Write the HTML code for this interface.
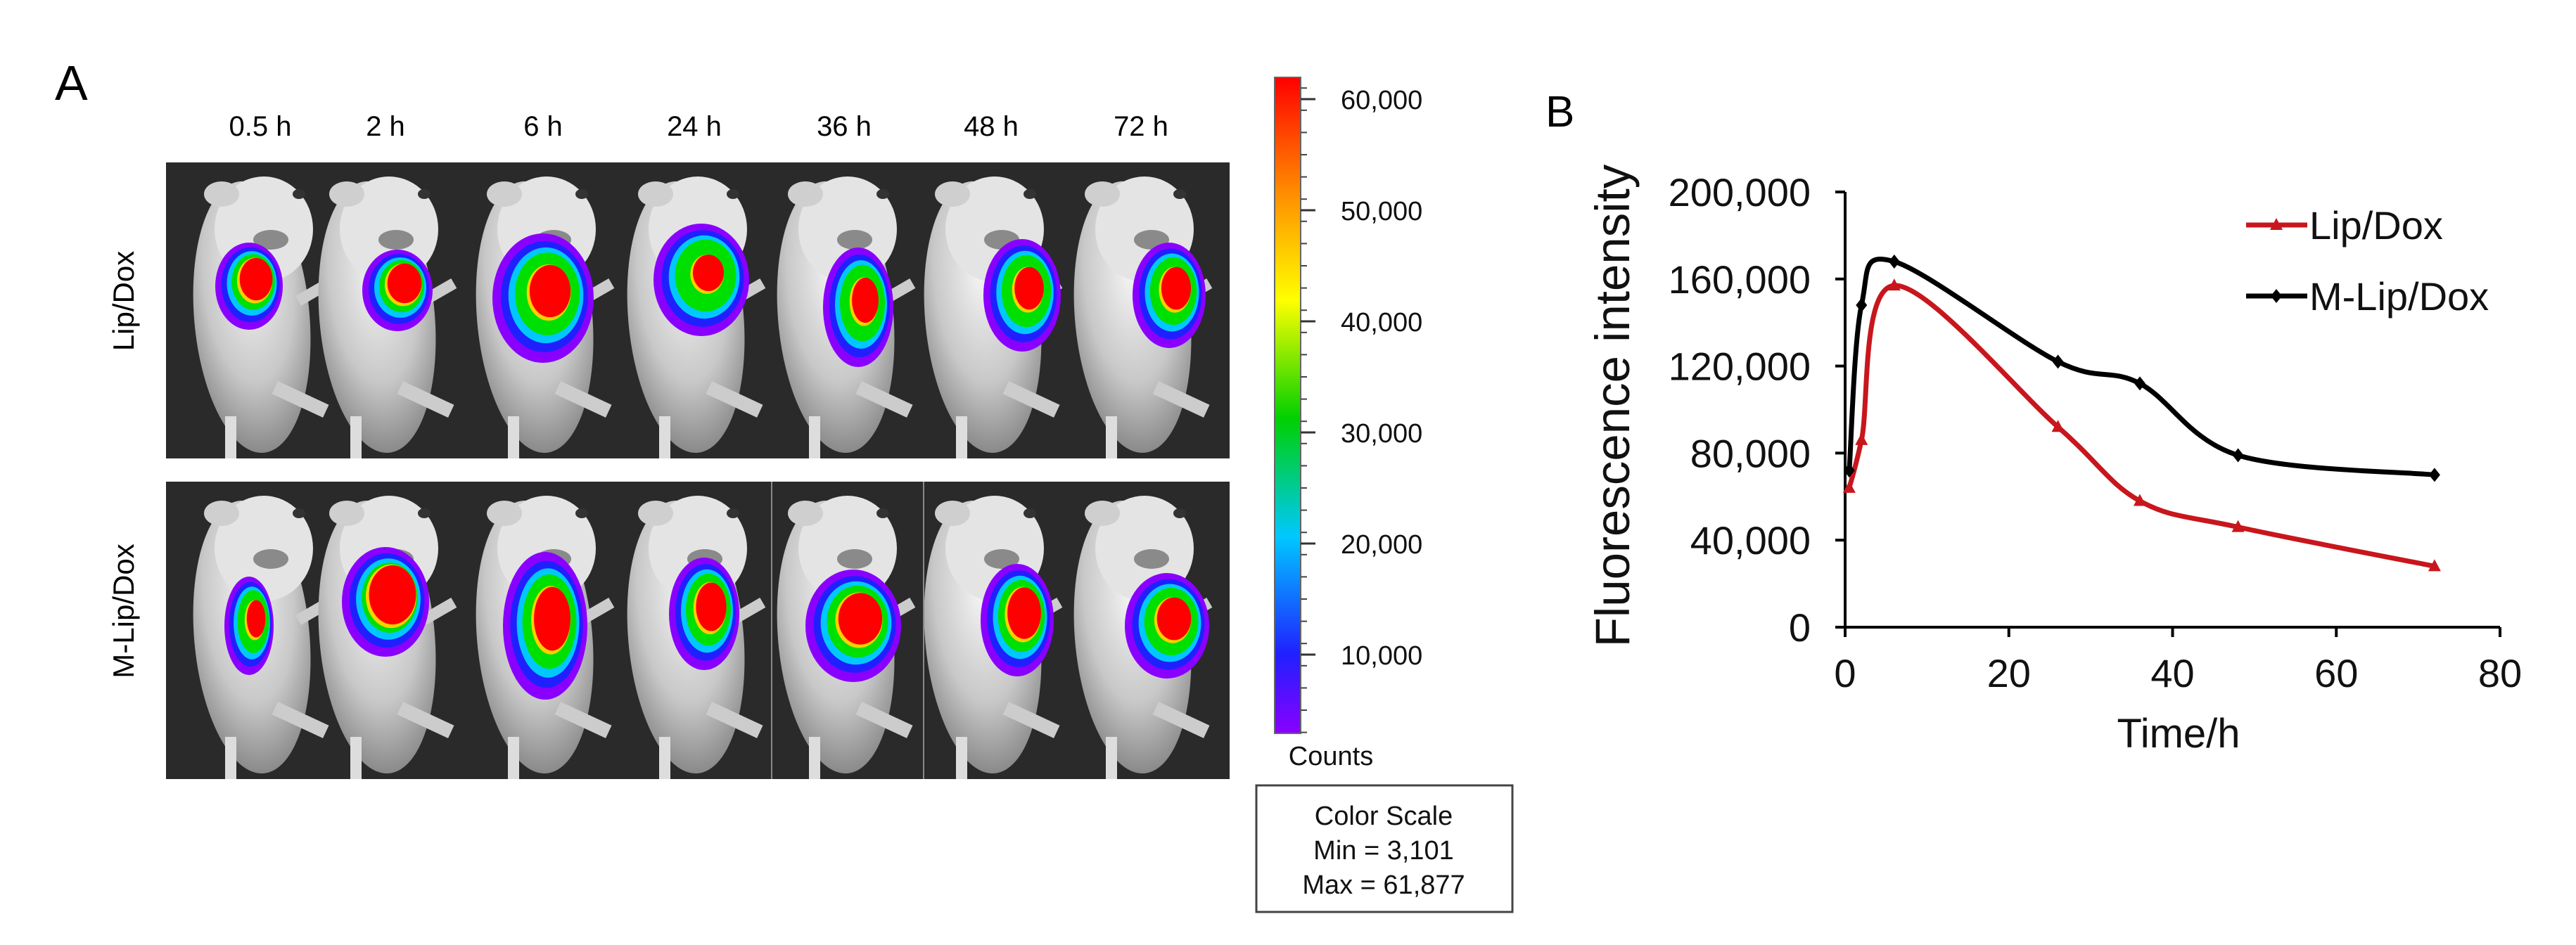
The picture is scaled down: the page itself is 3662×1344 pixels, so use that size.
<!DOCTYPE html>
<html><head><meta charset="utf-8"><style>
html,body{margin:0;padding:0;background:#fff;}
svg{display:block;font-family:"Liberation Sans",Arial,sans-serif;}
</style></head><body>
<svg id="fig" width="3662" height="1344" viewBox="0 0 3662 1344" xmlns="http://www.w3.org/2000/svg">
<defs>
<linearGradient id="cbar" x1="0" y1="1" x2="0" y2="0">
<stop offset="0" stop-color="#8a00ff"/><stop offset="0.12" stop-color="#2020ff"/><stop offset="0.3" stop-color="#00c8ff"/><stop offset="0.48" stop-color="#00d000"/><stop offset="0.66" stop-color="#ffff00"/><stop offset="0.82" stop-color="#ff9000"/><stop offset="1" stop-color="#ff0000"/>
</linearGradient>
<radialGradient id="fur" cx="0.5" cy="0.35" r="0.65"><stop offset="0" stop-color="#f2f2f2"/><stop offset="0.6" stop-color="#c8c8c8"/><stop offset="1" stop-color="#8a8a8a"/></radialGradient>
</defs>
<text x="78" y="142" font-size="70" fill="#000">A</text>
<g id="panelA"></g>
<g id="cbarg"></g>
<text x="2197" y="180" font-size="62" fill="#000">B</text>
<g id="chart"></g>
</svg>
<script>
const NS="http://www.w3.org/2000/svg";
function mk(tag,attrs,parent,txt){const e=document.createElementNS(NS,tag);for(const k in attrs)e.setAttribute(k,attrs[k]);if(txt!==undefined)e.textContent=txt;parent.appendChild(e);return e;}

// ---- Chart B data ----
const times=[0.5,2,6,26,36,48,72];
const lipDox=[64000,86000,157000,92000,58000,46000,28000];
const mLipDox=[72000,148000,168000,122000,112000,79000,70000];
const yTicks=[0,40000,80000,120000,160000,200000];
const yTickLabels=["0","40,000","80,000","120,000","160,000","200,000"];
const xTicks=[0,20,40,60,80];
const xTickLabels=["0","20","40","60","80"];

const X0=2623,X1=3554,Y0=892,Y1=273;
const xs=t=>X0+(t-0)/(80-0)*(X1-X0);
const ys=v=>Y0-(v-0)/(200000-0)*(Y0-Y1);
const chart=document.getElementById('chart');

const yAxis=mk('line',{x1:X0,y1:Y0,x2:X0,y2:Y1,stroke:'#000','stroke-width':4},chart);


const xAxis=mk('line',{x1:X0-2,y1:Y0,x2:X1,y2:Y0,stroke:'#000','stroke-width':4},chart);


yTicks.forEach((v,i)=>{
  const tk=mk('line',{x1:X0-14,y1:ys(v),x2:X0,y2:ys(v),stroke:'#000','stroke-width':4},chart);
  
  
  const tl=mk('text',{x:2574,y:ys(v)+20,'font-size':56,'text-anchor':'end',fill:'#111'},chart,yTickLabels[i]);
  
  
});
xTicks.forEach((v,i)=>{
  const tk=mk('line',{x1:xs(v),y1:Y0,x2:xs(v),y2:Y0+14,stroke:'#000','stroke-width':4},chart);
  
  
  const tl=mk('text',{x:xs(v),y:977,'font-size':56,'text-anchor':'middle',fill:'#111'},chart,xTickLabels[i]);
  
  
});
const xt=mk('text',{x:3097,y:1063,'font-size':58,'text-anchor':'middle',fill:'#111'},chart,'Time/h');


const yt=mk('text',{x:0,y:0,'font-size':69,'text-anchor':'middle',fill:'#111',transform:'translate(2316,577) rotate(-90)'},chart,'Fluorescence intensity');



function smooth(pts){
  let d='M'+pts[0][0]+','+pts[0][1];
  for(let i=0;i<pts.length-1;i++){
    const p0=pts[Math.max(0,i-1)],p1=pts[i],p2=pts[i+1],p3=pts[Math.min(pts.length-1,i+2)];
    const k=1/6;
    const c1=[p1[0]+(p2[0]-p0[0])*k,p1[1]+(p2[1]-p0[1])*k];
    const c2=[p2[0]-(p3[0]-p1[0])*k,p2[1]-(p3[1]-p1[1])*k];
    d+=' C'+c1[0]+','+c1[1]+' '+c2[0]+','+c2[1]+' '+p2[0]+','+p2[1];
  }
  return d;
}
function series(vals,color,name,marker){
  const pts=times.map((t,i)=>[xs(t),ys(vals[i])]);
  const p=mk('path',{d:smooth(pts),fill:'none',stroke:color,'stroke-width':7,'stroke-linejoin':'round'},chart);
  
  
  pts.forEach(q=>{
    let m;
    if(marker==='tri') m=mk('polygon',{points:`${q[0]},${q[1]-10} ${q[0]-9},${q[1]+7} ${q[0]+9},${q[1]+7}`,fill:color},chart);
    else m=mk('polygon',{points:`${q[0]},${q[1]-10} ${q[0]-8},${q[1]} ${q[0]},${q[1]+10} ${q[0]+8},${q[1]}`,fill:color},chart);
    
    
  });
}
series(lipDox,'#c8161d','lip-dox','tri');
series(mLipDox,'#000','m-lip-dox','dia');
// legend
const lg=[['Lip/Dox','#c8161d',320,'tri'],['M-Lip/Dox','#000',421,'dia']];
lg.forEach(([t,c,y,m])=>{
  const l=mk('line',{x1:3193,y1:y,x2:3280,y2:y,stroke:c,'stroke-width':7},chart);
  
  
  const s=m==='tri'?`3236,${y-10} 3227,${y+7} 3245,${y+7}`:`3236,${y-10} 3228,${y} 3236,${y+10} 3244,${y}`;
  mk('polygon',{points:s,fill:c},chart);
  const tx=mk('text',{x:3283,y:y+20,'font-size':56,fill:'#111'},chart,t);
  
  
});

// ---- Panel A ----
const A=document.getElementById('panelA');
const colCenters=[370,548,772,987,1200,1409,1622];
const colLabels=['0.5 h','2 h','6 h','24 h','36 h','48 h','72 h'];
colLabels.forEach((l,i)=>{
  const t=mk('text',{x:colCenters[i],y:193,'font-size':40,'text-anchor':'middle',fill:'#000'},A,l);
  
  
});
const rows=[[231,652,'Lip/Dox',428],[685,1108,'M-Lip/Dox',869]];
const blobs=[
 [[354,407,48,62,0.9],[565,413,50,58,0.9],[772,424,72,92,0.75],[997,398,68,80,0.6],[1220,437,50,85,0.7],[1453,420,55,80,0.7],[1662,420,52,75,0.75]],
 [[354,890,35,70,0.7],[548,856,62,78,1],[775,890,60,105,0.8],[1001,873,50,80,0.8],[1213,890,68,80,0.85],[1446,882,52,80,0.85],[1659,890,60,75,0.75]]];
const ringCols=['#8a00ff','#2020ff','#00c8ff','#00e000','#ffd000','#ff0000'];
const ringF=[1,0.86,0.74,0.64,0.58,0.54];
rows.forEach((r,ri)=>{
  const bg=mk('rect',{x:236,y:r[0],width:1512,height:r[1]-r[0],fill:'#2a2a2a'},A);
  
  
  colCenters.forEach((cx,ci)=>{
    const g=mk('g',{},A);
    
    
    const h=r[1]-r[0], cy=r[0]+h*0.52;
    mk('ellipse',{cx:cx-12,cy:cy,rx:82,ry:h*0.46,fill:'url(#fur)',transform:`rotate(-5 ${cx} ${cy})`},g);
    mk('ellipse',{cx:cx+5,cy:r[0]+95,rx:70,ry:75,fill:'#e4e4e4'},g);
    mk('ellipse',{cx:cx+15,cy:r[0]+110,rx:25,ry:14,fill:'#8a8a8a'},g);
    mk('ellipse',{cx:cx-55,cy:r[0]+45,rx:25,ry:18,fill:'#cfcfcf'},g);
    mk('ellipse',{cx:cx+55,cy:r[0]+45,rx:9,ry:7,fill:'#333'},g);
    mk('rect',{x:cx-50,y:r[1]-60,width:16,height:60,fill:'#ddd'},g);
    mk('rect',{x:cx+25,y:r[1]-110,width:80,height:20,fill:'#ccc',transform:`rotate(25 ${cx+25} ${r[1]-110})`},g);
    mk('rect',{x:cx+50,y:r[0]+190,width:50,height:16,fill:'#ccc',transform:`rotate(-30 ${cx+50} ${r[0]+190})`},g);
    const b=blobs[ri][ci];
    ringCols.forEach((c,k)=>{
      const f=ringF[k]*(k>=4?b[4]:1);
      mk('ellipse',{cx:b[0]+k*2,cy:b[1]-k*2,rx:Math.max(8,b[2]*f),ry:Math.max(10,b[3]*f),fill:c},g);
    });
  });
  if(ri===1){[1097,1313].forEach(x=>mk('line',{x1:x,y1:r[0],x2:x,y2:r[1],stroke:'#888','stroke-width':2},A));}
  const rl=mk('text',{x:0,y:0,'font-size':42,'text-anchor':'middle',fill:'#000',transform:`translate(190,${r[3]}) rotate(-90)`},A,r[2]);
  
  
});

// ---- Color bar ----
const C=document.getElementById('cbarg');
const cbTicks=[60000,50000,40000,30000,20000,10000];
const cbLabels=['60,000','50,000','40,000','30,000','20,000','10,000'];
const cbY=v=>141+(60000-v)/10000*158;
mk('rect',{x:1812,y:110,width:37,height:933,fill:'url(#cbar)',stroke:'#666','stroke-width':2},C);
for(let v=3000;v<=61000;v+=2000){mk('line',{x1:1849,y1:cbY(v),x2:1858,y2:cbY(v),stroke:'#444','stroke-width':2},C);}
cbTicks.forEach((v,i)=>{
  mk('line',{x1:1849,y1:cbY(v),x2:1870,y2:cbY(v),stroke:'#333','stroke-width':3},C);
  const t=mk('text',{x:1906,y:cbY(v)+14,'font-size':38,fill:'#111'},C,cbLabels[i]);
  
  
});
const ct=mk('text',{x:1892,y:1088,'font-size':38,'text-anchor':'middle',fill:'#111'},C,'Counts');


const bx=mk('rect',{x:1786,y:1117,width:364,height:180,fill:'#fff',stroke:'#444','stroke-width':3},C);


[['Color Scale',1173],['Min = 3,101',1222],['Max = 61,877',1271]].forEach(([t,y])=>{
  const e=mk('text',{x:1967,y:y,'font-size':38,'text-anchor':'middle',fill:'#111'},C,t);
  
  
});
</script>
</body></html>
